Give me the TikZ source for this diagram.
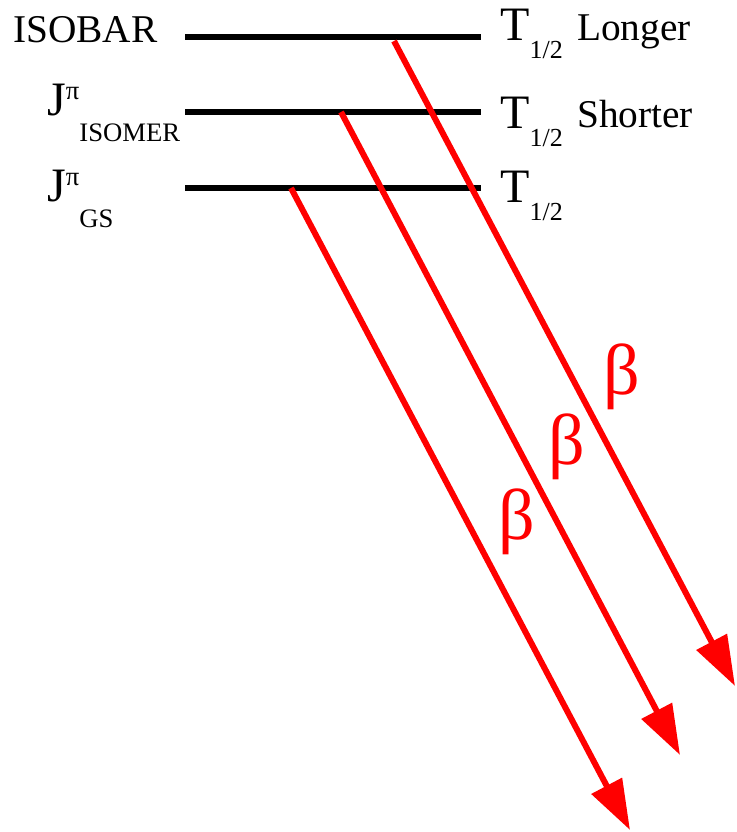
\documentclass[tikz,border=0pt]{standalone}
\usepackage{fontspec}
\setmainfont{Liberation Serif}
\usetikzlibrary{arrows.meta,positioning}

\newcommand{\lblsize}{\fontsize{29.5}{32}\selectfont}
\newcommand{\thalf}{{\fontsize{36}{38}\selectfont T}\raisebox{-14pt}{\fontsize{19.5}{20}\selectfont 1/2}}
\newcommand{\spinof}[1]{{\fontsize{36}{38}\selectfont J}\raisebox{12pt}{\fontsize{20}{20}\selectfont π}\raisebox{-20pt}{\fontsize{20}{20}\selectfont #1}}

\begin{document}
\begin{tikzpicture}[x=0.75pt, y=-0.75pt,
  levelline/.style={line width=4.5pt},
  decay/.style={red, line width=4.5pt, -{Triangle[length=37.5pt,width=25pt]}},
  lbl/.style={anchor=base west, inner sep=0pt},
  beta/.style={red, pos=0.52, xshift=37.5pt, inner sep=0pt}]
  \useasboundingbox (0,0) rectangle (737,832);
  % energy levels
  \coordinate (isobarL) at (185,37);  \coordinate (isobarR) at (481,37);
  \coordinate (isomerL) at (185,112); \coordinate (isomerR) at (481,112);
  \coordinate (gsL) at (185,188);     \coordinate (gsR) at (481,188);
  \draw[levelline] (isobarL) -- (isobarR);
  \draw[levelline] (isomerL) -- (isomerR);
  \draw[levelline] (gsL) -- (gsR);
  % labels
  \node[lbl] (isobar) at (13,42) {\lblsize ISOBAR};
  \node[lbl] (isomer) at (47,115) {\spinof{ISOMER}};
  \node[lbl] (gs) at (47,201) {\spinof{GS}};
  \node[lbl] (tisobar) at (500,40) {\thalf};
  \node[lbl] (longer) at (577,40) {\lblsize Longer};
  \node[lbl] (tisomer) at (500,128) {\thalf};
  \node[lbl] (shorter) at (577,127) {\lblsize Shorter};
  \node[lbl] (tgs) at (500,202) {\thalf};
  % beta decays
  \coordinate (isobarS) at (394,41); \coordinate (isobarE) at (735,686);
  \coordinate (isomerS) at (341,112); \coordinate (isomerE) at (680,755);
  \coordinate (gsS) at (291,188);     \coordinate (gsE) at (630,830);
  \draw[decay] (isobarS) -- node[beta] (betaisobar) {\fontsize{54}{56}\selectfont β} (isobarE);
  \draw[decay] (isomerS) -- node[beta] (betaisomer) {\fontsize{54}{56}\selectfont β} (isomerE);
  \draw[decay] (gsS) -- node[beta] (betags) {\fontsize{54}{56}\selectfont β} (gsE);
\end{tikzpicture}
\end{document}
